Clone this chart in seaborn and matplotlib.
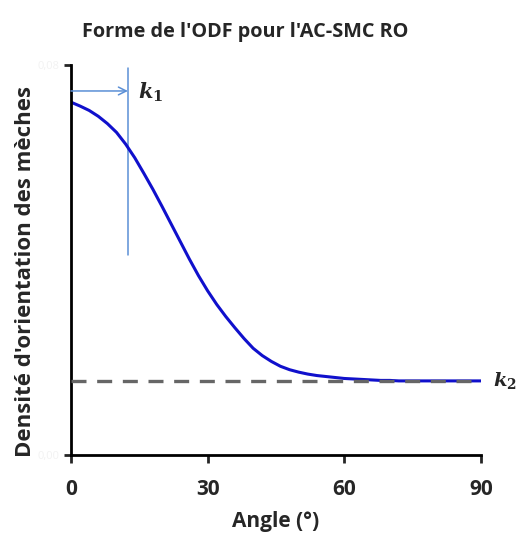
import matplotlib.pyplot as plt
import seaborn as sns
import pandas as pd

# values
angle = list(range(0, 92, 2))
density = [0.0724, 0.0716, 0.0707, 0.0695, 0.0680, 0.0662, 0.0638, 0.0610,
           0.0578, 0.0545, 0.0510, 0.0474, 0.0438, 0.0402, 0.0368, 0.0337,
           0.0309, 0.0284, 0.0261, 0.0239, 0.0219, 0.0204, 0.0192, 0.0182,
           0.0175, 0.0170, 0.0166, 0.0163, 0.0161, 0.0159, 0.0157, 0.0156,
           0.0155, 0.0154, 0.0153, 0.0153, 0.0152, 0.0152, 0.0152, 0.0152,
           0.0152, 0.0152, 0.0152, 0.0152, 0.0152, 0.0152]
k1 = 12.5
k2 = 0.0152
x_ticks = [0, 30, 60, 90]
y_ticks = [0.0, 0.08]
y_tick_labels = ["0,00", "0,08"]

sns.set_style("white")
plt.rcParams["font.family"] = ["Open Sans", "DejaVu Sans"]
plt.rcParams["mathtext.fontset"] = "dejavuserif"

df = pd.DataFrame({"Angle": angle, "Densite": density})

fig = plt.figure(figsize=(5.17, 5.34), dpi=100)
ax = fig.add_axes([0.1373, 0.148, 0.7927, 0.730])

sns.lineplot(data=df, x="Angle", y="Densite", ax=ax, color="#1010cc",
             linewidth=2.2, zorder=2)
ax.axhline(k2, xmin=0, xmax=1, color="#666666", linewidth=2.4,
           linestyle=(0, (4.5, 3.2)), zorder=3)

# k1 marker
ax.plot([k1, k1], [0.041, 0.0794], color="#5b8fd6", linewidth=1.1, zorder=1)
ax.annotate("", xy=(k1, 0.0747), xytext=(0, 0.0747),
            arrowprops=dict(arrowstyle="->", color="#5b8fd6", lw=1.1,
                            shrinkA=0, shrinkB=0, mutation_scale=14))
ax.text(k1 + 2.2, 0.0745, r"$\boldsymbol{k}_\mathbf{1}$", fontsize=15,
        va="center", ha="left")
ax.text(92.6, k2, r"$\boldsymbol{k}_\mathbf{2}$", fontsize=14,
        va="center", ha="left", clip_on=False)

ax.set_xlim(0, 90)
ax.set_ylim(0, 0.08)
ax.set_xticks(x_ticks)
ax.set_xticklabels([str(t) for t in x_ticks], fontsize=15, fontweight="bold")
ax.set_yticks(y_ticks)
ax.set_yticklabels(y_tick_labels, fontsize=8, color="#f2f2f2")
ax.tick_params(axis="x", direction="out", length=6, width=2, pad=11,
               bottom=True)
ax.tick_params(axis="y", direction="out", length=5, width=2, left=True)

sns.despine(ax=ax)
for side in ["left", "bottom"]:
    ax.spines[side].set_linewidth(2)
    ax.spines[side].set_color("black")

ax.set_xlabel("Angle (°)", fontsize=15, fontweight="bold", labelpad=8)
ax.set_ylabel("Densité d'orientation des mèches", fontsize=16,
              fontweight="bold")
ax.yaxis.set_label_coords(-0.085, 0.47)
ax.set_title("Forme de l'ODF pour l'AC-SMC RO", fontsize=14.3,
             fontweight="bold", pad=20, x=0.424)

fig.savefig("out.png", dpi=100)
